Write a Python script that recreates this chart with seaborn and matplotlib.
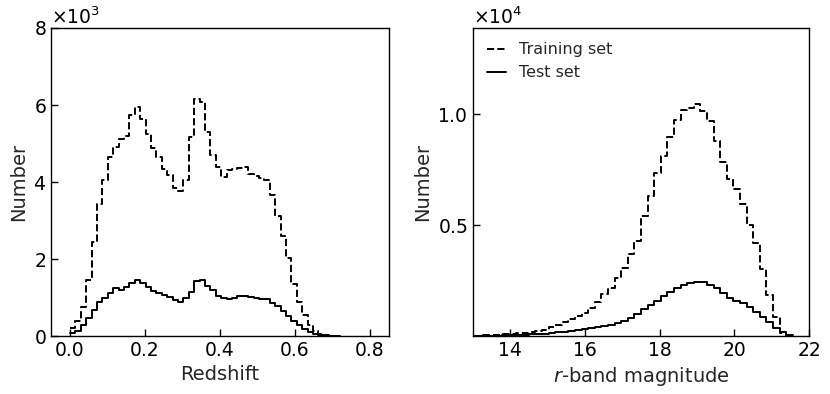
import matplotlib
matplotlib.use('Agg')
import matplotlib.pyplot as plt
import seaborn as sns
import numpy as np
import pandas as pd

# redshift histogram (50 bins)
z_range = (0.0, 0.72)
z_train = [200, 400, 760, 1450, 2450, 3430, 4050, 4660, 4920, 5110,
           5200, 5740, 5940, 5630, 5240, 4880, 4660, 4345, 4170, 3835,
           3775, 4050, 5180, 6150, 6090, 5310, 4690, 4380, 4140, 4300,
           4330, 4360, 4380, 4210, 4160, 4100, 4050, 3660, 3120, 2590,
           2040, 1340, 890, 545, 300, 140, 60, 30, 15, 8]
z_test = [80, 140, 290, 460, 690, 890, 1000, 1110, 1240, 1200,
          1270, 1370, 1460, 1390, 1280, 1180, 1130, 1070, 1010, 940,
          880, 980, 1150, 1440, 1450, 1300, 1190, 1040, 980, 975,
          1000, 1040, 1030, 1010, 990, 970, 960, 870, 780, 660,
          530, 400, 280, 180, 110, 60, 30, 15, 6, 2]

# r-band magnitude histogram (50 bins)
r_range = (12.735, 21.56)
r_train = [15, 20, 25, 35, 40, 50, 80, 100, 130, 160,
           190, 230, 285, 390, 495, 615, 765, 900, 1050, 1250,
           1545, 1890, 2190, 2600, 3090, 3690, 4290, 5400, 6330, 7360,
           8130, 8970, 9750, 10190, 10300, 10450, 10150, 9700, 8800, 7850,
           7100, 6620, 5950, 5000, 4220, 3020, 1850, 870, 150, 30]
r_test = [4, 6, 9, 13, 18, 25, 33, 42, 52, 64,
          78, 95, 115, 140, 168, 200, 235, 275, 315, 345,
          390, 435, 495, 590, 690, 820, 990, 1240, 1420, 1600,
          1800, 2000, 2150, 2300, 2400, 2450, 2420, 2300, 2150, 1940,
          1740, 1590, 1470, 1290, 1070, 840, 620, 350, 170, 50]

sns.set_style('ticks')
plt.rcParams['font.family'] = ['DejaVu Sans']
plt.rcParams['xtick.direction'] = 'in'
plt.rcParams['ytick.direction'] = 'in'
plt.rcParams['xtick.labelsize'] = 13.5
plt.rcParams['ytick.labelsize'] = 13.5
plt.rcParams['xtick.color'] = 'black'
plt.rcParams['ytick.color'] = 'black'
plt.rcParams['axes.edgecolor'] = 'black'


def hist_frame(rng, counts):
    edges = np.linspace(rng[0], rng[1], len(counts) + 1)
    mids = 0.5 * (edges[:-1] + edges[1:])
    return pd.DataFrame({'x': mids, 'n': counts})


fig = plt.figure(figsize=(8.3, 3.94), dpi=100)
ax1 = fig.add_axes([0.0617, 0.147, 0.4067, 0.782])
ax2 = fig.add_axes([0.5695, 0.147, 0.4055, 0.782])

sns.histplot(data=hist_frame(z_range, z_train), x='x', weights='n', bins=len(z_train),
             binrange=z_range, element='step', fill=False, color='black',
             linestyle='--', linewidth=1.4, ax=ax1)
sns.histplot(data=hist_frame(z_range, z_test), x='x', weights='n', bins=len(z_test),
             binrange=z_range, element='step', fill=False, color='black',
             linewidth=1.4, ax=ax1)
ax1.set_xlim(-0.05, 0.85)
ax1.set_ylim(0, 8000)
ax1.set_xticks([0, 0.2, 0.4, 0.6, 0.8])
ax1.set_yticks([0, 2000, 4000, 6000, 8000])
ax1.set_xlabel('Redshift', fontsize=14)
ax1.set_ylabel('Number', fontsize=14)

sns.histplot(data=hist_frame(r_range, r_train), x='x', weights='n', bins=len(r_train),
             binrange=r_range, element='step', fill=False, color='black',
             linestyle='--', linewidth=1.4, label='Training set', ax=ax2)
sns.histplot(data=hist_frame(r_range, r_test), x='x', weights='n', bins=len(r_test),
             binrange=r_range, element='step', fill=False, color='black',
             linewidth=1.4, label='Test set', ax=ax2)
ax2.set_xlim(13, 22)
ax2.set_ylim(0, 13900)
ax2.set_xticks([14, 16, 18, 20, 22])
ax2.set_yticks([5000, 10000])
ax2.set_xlabel('$r$-band magnitude', fontsize=14)
ax2.set_ylabel('Number', fontsize=14)
ax2.legend(loc='upper left', frameon=False, fontsize=11.5, handlelength=1.2)

for ax in (ax1, ax2):
    ax.ticklabel_format(style='sci', axis='y', scilimits=(0, 0), useMathText=True)
    ax.yaxis.get_offset_text().set_fontsize(13.5)
    ax.tick_params(length=5, width=1)
    for s in ax.spines.values():
        s.set_visible(True)
        s.set_linewidth(1)

fig.savefig('out.png', dpi=100)
